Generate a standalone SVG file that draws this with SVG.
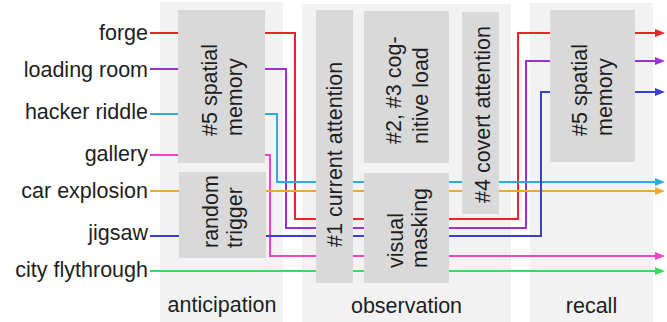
<svg xmlns="http://www.w3.org/2000/svg" width="667" height="322" viewBox="0 0 667 322">
<style>
text{font-family:"Liberation Sans",Arial,sans-serif;font-size:21.5px;fill:#1e1e1e}
.lbl{text-anchor:end}
.stg{text-anchor:middle}
.bg{fill:#f2f2f2}
.box{fill:#d9d9d9}
.c{fill:none;stroke-width:2}
</style>
<defs>
<marker id="aR" markerUnits="userSpaceOnUse" markerWidth="10" markerHeight="8" refX="0" refY="4" orient="auto"><path d="M0,0L10,4L0,8z" fill="#e8262a"/></marker>
<marker id="aP" markerUnits="userSpaceOnUse" markerWidth="10" markerHeight="8" refX="0" refY="4" orient="auto"><path d="M0,0L10,4L0,8z" fill="#9b30d9"/></marker>
<marker id="aB" markerUnits="userSpaceOnUse" markerWidth="10" markerHeight="8" refX="0" refY="4" orient="auto"><path d="M0,0L10,4L0,8z" fill="#3a3fcf"/></marker>
<marker id="aC" markerUnits="userSpaceOnUse" markerWidth="10" markerHeight="8" refX="0" refY="4" orient="auto"><path d="M0,0L10,4L0,8z" fill="#2eaadc"/></marker>
<marker id="aO" markerUnits="userSpaceOnUse" markerWidth="10" markerHeight="8" refX="0" refY="4" orient="auto"><path d="M0,0L10,4L0,8z" fill="#f0a830"/></marker>
<marker id="aM" markerUnits="userSpaceOnUse" markerWidth="10" markerHeight="8" refX="0" refY="4" orient="auto"><path d="M0,0L10,4L0,8z" fill="#ee45c8"/></marker>
<marker id="aG" markerUnits="userSpaceOnUse" markerWidth="10" markerHeight="8" refX="0" refY="4" orient="auto"><path d="M0,0L10,4L0,8z" fill="#3ddc58"/></marker>
</defs>
<rect width="667" height="322" fill="#ffffff"/>
<g id="stage-anticipation">
<rect class="bg" x="160" y="2" width="123" height="320"/>
<text class="stg" x="222" y="312">anticipation</text>
</g>
<g id="stage-observation">
<rect class="bg" x="302" y="4" width="209" height="318"/>
<text class="stg" x="406.5" y="313">observation</text>
</g>
<g id="stage-recall">
<rect class="bg" x="530" y="3" width="123" height="319"/>
<text class="stg" x="591.5" y="313">recall</text>
</g>
<g id="labels">
<text class="lbl" x="148" y="39.5">forge</text>
<text class="lbl" x="148" y="77">loading room</text>
<text class="lbl" x="148" y="118.5">hacker riddle</text>
<text class="lbl" x="148" y="160.5">gallery</text>
<text class="lbl" x="148" y="198">car explosion</text>
<text class="lbl" x="148" y="239.5">jigsaw</text>
<text class="lbl" x="148" y="277">city flythrough</text>
</g>
<g id="connectors">
<path class="c" stroke="#e8262a" d="M150,33H295V219H518V33H655" marker-end="url(#aR)"/>
<path class="c" stroke="#9b30d9" d="M150,69H286V228H526V61H655" marker-end="url(#aP)"/>
<path class="c" stroke="#2eaadc" d="M150,114H277V182H655" marker-end="url(#aC)"/>
<path class="c" stroke="#ee45c8" d="M150,155H270V256H655" marker-end="url(#aM)"/>
<path class="c" stroke="#f0a830" d="M150,191H655" marker-end="url(#aO)"/>
<path class="c" stroke="#3a3fcf" d="M150,236H541V92H655" marker-end="url(#aB)"/>
<path class="c" stroke="#3ddc58" d="M150,271H655" marker-end="url(#aG)"/>
</g>
<g id="anticipation-spatial-memory">
<rect class="box" x="178" y="10" width="87" height="153"/>
<text transform="translate(217,136) rotate(-90)">#5 spatial</text>
<text transform="translate(242,136) rotate(-90)">memory</text>
</g>
<g id="random-trigger">
<rect class="box" x="179" y="172" width="87" height="86"/>
<text transform="translate(218,248) rotate(-90)">random</text>
<text transform="translate(242,248) rotate(-90)">trigger</text>
</g>
<g id="current-attention">
<rect class="box" x="316" y="10" width="37" height="273"/>
<text transform="translate(342,247) rotate(-90)">#1 current attention</text>
</g>
<g id="cognitive-load">
<rect class="box" x="364" y="11" width="85" height="152"/>
<text transform="translate(401,144) rotate(-90)">#2, #3 cog-</text>
<text transform="translate(428,144) rotate(-90)">nitive load</text>
</g>
<g id="visual-masking">
<rect class="box" x="364" y="173" width="85" height="110"/>
<text transform="translate(403,268) rotate(-90)">visual</text>
<text transform="translate(427,268) rotate(-90)">masking</text>
</g>
<g id="covert-attention">
<rect class="box" x="462" y="12" width="37" height="202"/>
<text transform="translate(490,203) rotate(-90)">#4 covert attention</text>
</g>
<g id="recall-spatial-memory">
<rect class="box" x="550" y="10" width="85" height="152"/>
<text transform="translate(587,136) rotate(-90)">#5 spatial</text>
<text transform="translate(612,136) rotate(-90)">memory</text>
</g>
</svg>
